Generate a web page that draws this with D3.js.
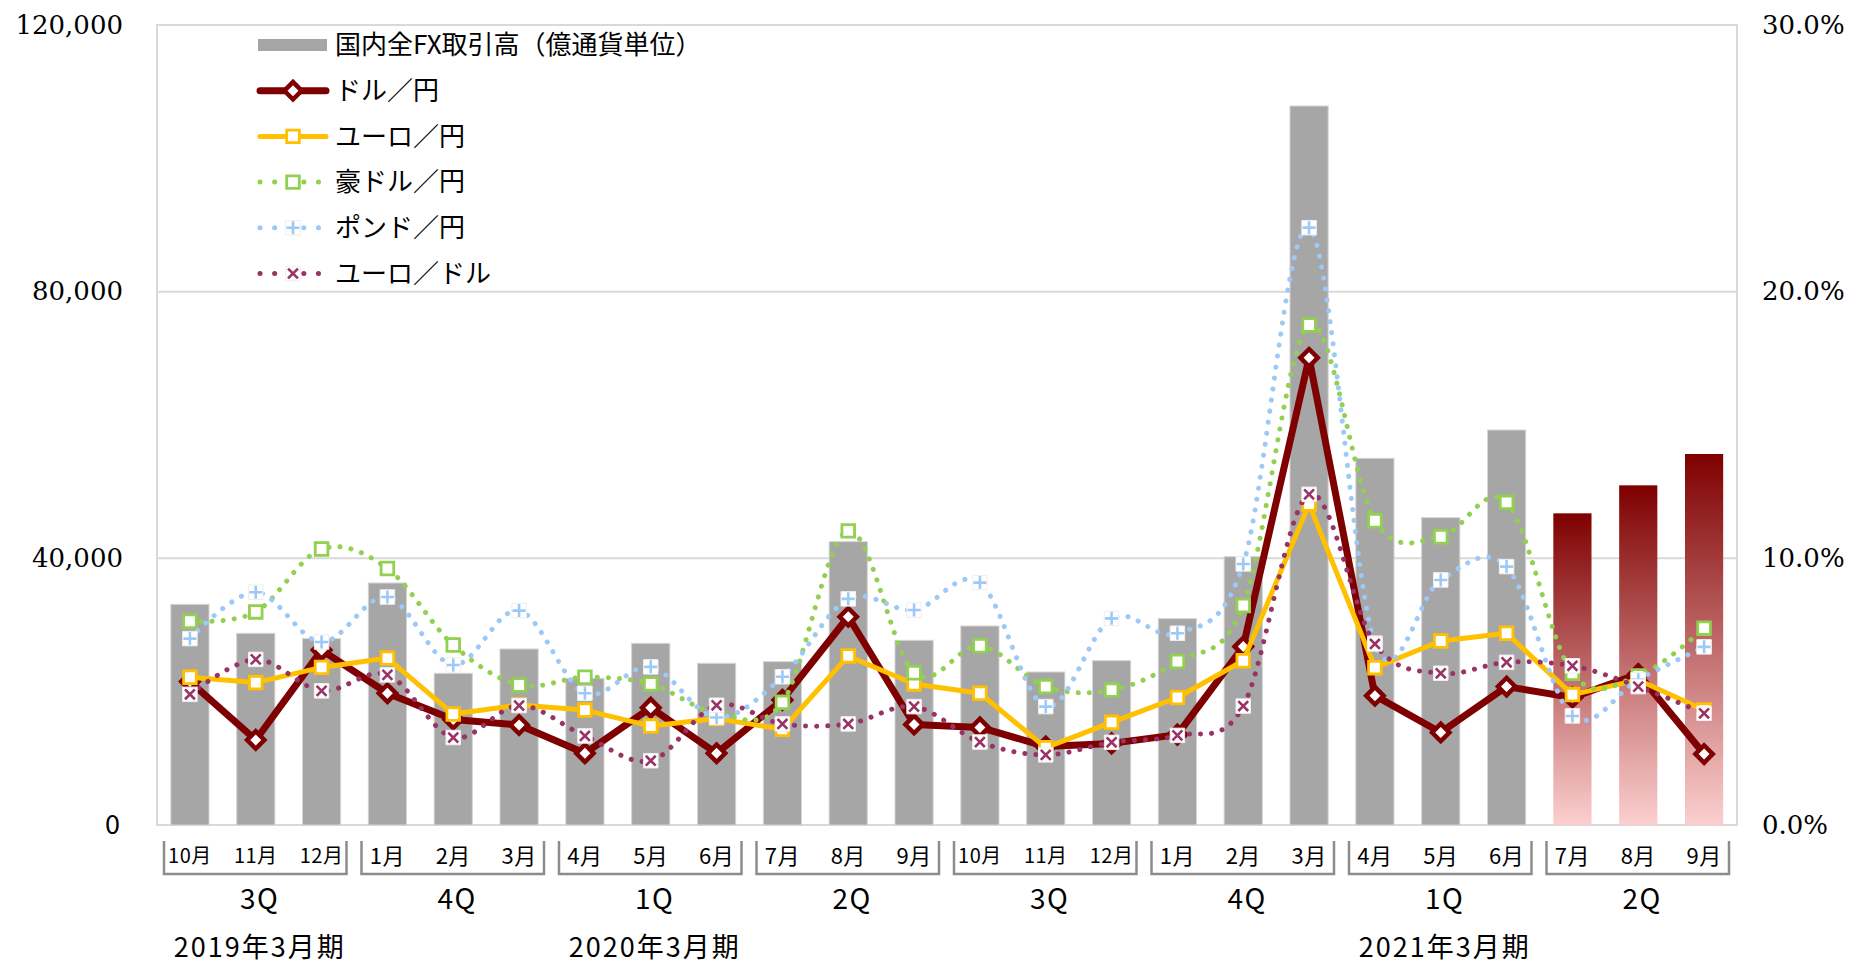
<!DOCTYPE html>
<html>
<head>
<meta charset="utf-8">
<script src="https://cdn.jsdelivr.net/npm/d3@7"></script>
<style>
  html, body { margin: 0; padding: 0; background: #fff; }
  svg { display: block; }
</style>
</head>
<body>
<svg id="chart" width="1852" height="964"></svg>
<script>
// ---- data -------------------------------------------------------------
const monthLabels = ["10月","11月","12月","1月","2月","3月","4月","5月","6月","7月","8月","9月",
                     "10月","11月","12月","1月","2月","3月","4月","5月","6月","7月","8月","9月"];
const quarterLabels = ["3Q","4Q","1Q","2Q","3Q","4Q","1Q","2Q"];
const fiscalYearLabels = ["2019年3月期","2020年3月期","2021年3月期"];
const fiscalYearFirstQuarter = [0, 2, 6];
const highlightQuarter = 7;

// 国内全FX取引高（億通貨単位）
const totalVolume = [33100, 28750, 27950, 36300, 22750, 26400, 22000, 27250, 24250, 24500, 42500, 27700,
                     29850, 22950, 24650, 30950, 40250, 107850, 55000, 46100, 59250, 46750, 50950, 55650];
// currency pair shares (%)
const usdJpy = [5.38, 3.19, 6.56, 4.94, 3.96, 3.75, 2.69, 4.40, 2.69, 4.69, 7.81, 3.77,
                3.66, 2.94, 3.06, 3.39, 6.69, 17.52, 4.85, 3.47, 5.19, 4.78, 5.66, 2.66];
const eurJpy = [5.54, 5.34, 5.91, 6.26, 4.16, 4.50, 4.31, 3.71, 3.99, 3.59, 6.34, 5.29,
                4.94, 2.90, 3.85, 4.78, 6.16, 12.03, 5.90, 6.90, 7.19, 4.89, 5.44, 4.31];
const audJpy = [7.64, 7.99, 10.35, 9.62, 6.75, 5.25, 5.54, 5.29, 4.20, 4.60, 11.03, 5.71,
                6.72, 5.19, 5.06, 6.13, 8.23, 18.75, 11.41, 10.81, 12.10, 5.69, 5.59, 7.38];
const gbpJpy = [6.99, 8.73, 6.86, 8.55, 6.00, 8.04, 4.94, 5.93, 4.03, 5.56, 8.48, 8.06,
                9.09, 4.44, 7.75, 7.19, 9.79, 22.40, 6.82, 9.19, 9.69, 4.09, 5.45, 6.68];
const eurUsd = [4.90, 6.21, 5.03, 5.63, 3.28, 4.48, 3.34, 2.41, 4.49, 3.79, 3.79, 4.44,
                3.11, 2.63, 3.10, 3.36, 4.46, 12.40, 6.79, 5.69, 6.10, 5.97, 5.19, 4.19];

const leftTicks = [0, 40000, 80000, 120000];
const rightTicks = [0, 10, 20, 30];
const seriesNames = ["国内全FX取引高（億通貨単位）", "ドル／円", "ユーロ／円", "豪ドル／円", "ポンド／円", "ユーロ／ドル"];

// ---- layout -----------------------------------------------------------
const plot = { left: 157, right: 1737, top: 25, bottom: 825 };
const sansJP = "'Noto Sans CJK JP', 'Noto Sans', sans-serif";
const serif = "'DejaVu Serif', 'Liberation Serif', serif";

const svg = d3.select("#chart");
const defs = svg.append("defs");
const grad = defs.append("linearGradient").attr("id", "recentBar")
  .attr("x1", 0).attr("y1", 0).attr("x2", 0).attr("y2", 1);
grad.append("stop").attr("offset", "0%").attr("stop-color", "#7f0000");
grad.append("stop").attr("offset", "100%").attr("stop-color", "#fccfcf");

const x = d3.scaleBand().domain(d3.range(monthLabels.length))
  .range([plot.left, plot.right]).paddingInner(0.42).paddingOuter(0.21);
const yL = d3.scaleLinear().domain([0, 120000]).range([plot.bottom, plot.top]);
const yR = d3.scaleLinear().domain([0, 30]).range([plot.bottom, plot.top]);
const cx = i => x(i) + x.bandwidth() / 2;
const step = x.step();

// gridlines and plot frame
svg.append("g").selectAll("line").data(leftTicks.filter(t => t > 0 && t < 120000)).join("line")
  .attr("x1", plot.left).attr("x2", plot.right)
  .attr("y1", d => yL(d)).attr("y2", d => yL(d))
  .attr("stroke", "#d9d9d9").attr("stroke-width", 2);
svg.append("rect")
  .attr("x", plot.left).attr("y", plot.top)
  .attr("width", plot.right - plot.left).attr("height", plot.bottom - plot.top)
  .attr("fill", "none").attr("stroke", "#d9d9d9").attr("stroke-width", 2);

// volume bars
svg.append("g").selectAll("rect").data(totalVolume).join("rect")
  .attr("x", (d, i) => x(i))
  .attr("y", d => yL(d))
  .attr("width", x.bandwidth())
  .attr("height", d => yL(0) - yL(d))
  .attr("fill", (d, i) => Math.floor(i / 3) === highlightQuarter ? "url(#recentBar)" : "#a6a6a6")
  .attr("stroke", (d, i) => Math.floor(i / 3) === highlightQuarter ? "none" : "#d4d4d4")
  .attr("stroke-width", 1);

// ---- markers ----------------------------------------------------------
function drawMarker(g, type, color, px, py) {
  if (type === "diamond") {
    g.append("path").attr("transform", `translate(${px},${py}) rotate(45)`)
      .attr("d", d3.symbol(d3.symbolSquare, 150)())
      .attr("fill", "#fff").attr("stroke", color).attr("stroke-width", 4.5);
  } else if (type === "square") {
    g.append("path").attr("transform", `translate(${px},${py})`)
      .attr("d", d3.symbol(d3.symbolSquare, 160)())
      .attr("fill", "#fff").attr("stroke", color).attr("stroke-width", 2.8);
  } else if (type === "plus" || type === "cross") {
    g.append("path").attr("transform", `translate(${px},${py})`)
      .attr("d", d3.symbol(d3.symbolSquare, 210)())
      .attr("fill", "#fff").attr("stroke", "#eeeeee").attr("stroke-width", 1);
    const r = type === "cross" ? 7 : 6.5;
    const p = d3.path();
    p.moveTo(-r, 0); p.lineTo(r, 0); p.moveTo(0, -r); p.lineTo(0, r);
    g.append("path")
      .attr("transform", `translate(${px},${py})${type === "cross" ? " rotate(45)" : ""}`)
      .attr("d", p.toString())
      .attr("stroke", color).attr("stroke-width", 2.6).attr("fill", "none");
  }
}

const series = [
  { values: usdJpy, color: "#7f0000", width: 7, dotted: false, marker: "diamond" },
  { values: eurJpy, color: "#ffc000", width: 5, dotted: false, marker: "square" },
  { values: audJpy, color: "#92d050", width: 5, dotted: true,  marker: "square" },
  { values: gbpJpy, color: "#9cc9f7", width: 5, dotted: true,  marker: "plus" },
  { values: eurUsd, color: "#993366", width: 5, dotted: true,  marker: "cross" }
];

series.forEach(s => {
  const g = svg.append("g");
  const line = d3.line()
    .x((d, i) => cx(i)).y(d => yR(d))
    .curve(s.dotted ? d3.curveCardinal.tension(0) : d3.curveLinear);
  g.append("path").datum(s.values)
    .attr("d", line)
    .attr("fill", "none")
    .attr("stroke", s.color)
    .attr("stroke-width", s.width)
    .attr("stroke-linecap", "round")
    .attr("stroke-linejoin", "round")
    .attr("stroke-dasharray", s.dotted ? "0.1 11" : null);
  s.values.forEach((v, i) => drawMarker(g, s.marker, s.color, cx(i), yR(v)));
});

// ---- axes -------------------------------------------------------------
const leftAxis = svg.append("g").attr("transform", `translate(${plot.left},0)`)
  .call(d3.axisLeft(yL).tickValues(leftTicks).tickFormat(d3.format(",")).tickSize(0).tickPadding(34));
leftAxis.select(".domain").remove();
leftAxis.selectAll("text")
  .attr("font-family", d => d === 0 ? sansJP : serif)
  .attr("font-size", d => d === 0 ? 27 : 26)
  .attr("dx", d => d === 0 ? -3 : 0)
  .attr("fill", "#000");

const rightAxis = svg.append("g").attr("transform", `translate(${plot.right},0)`)
  .call(d3.axisRight(yR).tickValues(rightTicks).tickFormat(d => d.toFixed(1) + "%").tickSize(0).tickPadding(25));
rightAxis.select(".domain").remove();
rightAxis.selectAll("text").attr("font-family", serif).attr("font-size", 26).attr("fill", "#000");

const bottomAxis = svg.append("g").attr("transform", `translate(0,${plot.bottom})`)
  .call(d3.axisBottom(x).tickFormat(i => monthLabels[i]).tickSize(0).tickPadding(0));
bottomAxis.select(".domain").remove();
bottomAxis.selectAll("text")
  .attr("y", 31).attr("dy", "0.35em")
  .attr("font-family", sansJP)
  .attr("font-size", i => monthLabels[i].length > 2 ? 20 : 22)
  .attr("letter-spacing", 0.5)
  .attr("fill", "#000");

// quarter brackets
const qg = svg.append("g");
quarterLabels.forEach((q, k) => {
  const gx0 = plot.left + k * 3 * step;
  const gx1 = gx0 + 3 * step;
  const p = d3.path();
  p.moveTo(gx0 + 7, 841); p.lineTo(gx0 + 7, 874); p.lineTo(gx1 - 8, 874); p.lineTo(gx1 - 8, 841);
  qg.append("path").attr("d", p.toString())
    .attr("fill", "none").attr("stroke", "#8c8c8c").attr("stroke-width", 2.5);
  qg.append("text")
    .attr("x", (gx0 + gx1) / 2 + 4).attr("y", 899).attr("dy", "0.35em")
    .attr("text-anchor", "middle")
    .attr("font-family", sansJP).attr("font-size", 28).attr("letter-spacing", 1.5)
    .attr("fill", "#000").text(q);
});

// fiscal year labels
fiscalYearLabels.forEach((fy, k) => {
  const gx0 = plot.left + fiscalYearFirstQuarter[k] * 3 * step;
  svg.append("text")
    .attr("x", gx0 + 1.5 * step + 4).attr("y", 948).attr("dy", "0.35em")
    .attr("text-anchor", "middle")
    .attr("font-family", sansJP).attr("font-size", 27).attr("letter-spacing", 2)
    .attr("fill", "#000").text(fy);
});

// ---- legend -----------------------------------------------------------
const legend = svg.append("g").attr("transform", "translate(258,45)");
const rowH = 45.7;
seriesNames.forEach((name, r) => {
  const ly = r * rowH;
  const row = legend.append("g");
  if (r === 0) {
    row.append("rect").attr("x", 0).attr("y", ly - 6).attr("width", 69).attr("height", 12).attr("fill", "#a6a6a6");
  } else {
    const s = series[r - 1];
    row.append("line").attr("x1", 2).attr("x2", 68).attr("y1", ly).attr("y2", ly)
      .attr("stroke", s.color).attr("stroke-width", s.width)
      .attr("stroke-linecap", "round")
      .attr("stroke-dasharray", s.dotted ? "0.1 14.5" : null);
    drawMarker(row, s.marker, s.color, 35, ly);
  }
  row.append("text").attr("x", 77).attr("y", ly).attr("dy", "0.35em")
    .attr("font-family", sansJP).attr("font-size", 26).attr("fill", "#000").text(name);
});
</script>
</body>
</html>
